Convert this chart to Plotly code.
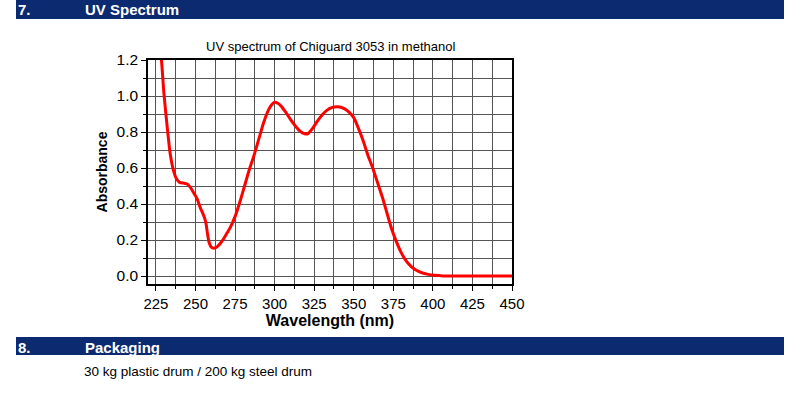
import plotly.graph_objects as go

wavelength = [227, 228.5, 230, 232, 234, 236, 238, 240, 243, 245, 247, 249, 251, 253, 255, 256.5,
              257.5, 258.5, 260, 262, 264, 266, 268, 270, 272, 275, 278, 281, 284, 287, 290, 293,
              296, 298, 300, 302, 304, 307, 310, 313, 316, 319, 321, 324, 327, 330, 333, 336, 340,
              344, 347, 350, 353, 356, 359, 362, 365, 368, 371, 374, 377, 380, 383, 386, 389, 393,
              397, 401, 405, 410, 420, 435, 450]
absorbance = [1.30, 1.20, 1.02, 0.84, 0.68, 0.59, 0.54, 0.52, 0.515, 0.51, 0.49, 0.46, 0.43, 0.38,
              0.34, 0.30, 0.24, 0.19, 0.16, 0.155, 0.165, 0.185, 0.21, 0.24, 0.27, 0.33, 0.41, 0.50,
              0.59, 0.67, 0.76, 0.85, 0.92, 0.95, 0.965, 0.96, 0.945, 0.91, 0.87, 0.835, 0.805, 0.79,
              0.79, 0.82, 0.86, 0.895, 0.92, 0.935, 0.94, 0.93, 0.91, 0.88, 0.82, 0.75, 0.67, 0.60,
              0.52, 0.44, 0.35, 0.26, 0.19, 0.13, 0.085, 0.055, 0.035, 0.018, 0.009, 0.004, 0.002,
              0.0, 0.0, 0.0, 0.0]
x_ticks = [225, 250, 275, 300, 325, 350, 375, 400, 425, 450]
y_ticks = [0.0, 0.2, 0.4, 0.6, 0.8, 1.0, 1.2]

W, H = 800, 396
L, R, T, B = 148, 512, 60, 284
pw, ph = R - L, B - T

def px(x):
    return (x - L) / pw

def py(y):
    return (B - y) / ph

FONT = "Liberation Sans, Arial, sans-serif"
NAVY = "#0b2a6f"
GRID = "#555555"

fig = go.Figure()
fig.add_trace(go.Scatter(x=wavelength, y=absorbance, mode="lines",
                         line=dict(color="#ff0000", width=3, shape="spline", smoothing=0.6),
                         hoverinfo="x+y", showlegend=False))

fig.update_layout(
    width=W, height=H,
    margin=dict(l=L, r=W - R, t=T, b=H - B, pad=0),
    paper_bgcolor="white", plot_bgcolor="white",
    font=dict(family=FONT, color="black"),
    xaxis=dict(range=[220, 450], tickvals=x_ticks, ticktext=[str(v) for v in x_ticks],
               showgrid=True, gridcolor=GRID, gridwidth=1.3,
               minor=dict(dtick=12.5, tick0=225, showgrid=True, gridcolor=GRID, gridwidth=1.3,
                          ticks="outside", ticklen=3, tickcolor="black"),
               ticks="outside", ticklen=5, tickwidth=1.3, tickcolor="black",
               showline=True, linecolor="black", linewidth=1.5, mirror=True,
               zeroline=False, tickfont=dict(size=15, family=FONT),
               title=dict(text="<b>Wavelength (nm)</b>", font=dict(size=16, family=FONT), standoff=3)),
    yaxis=dict(range=[-0.0444, 1.2], tickvals=y_ticks, ticktext=["%.1f" % v for v in y_ticks],
               showgrid=True, gridcolor=GRID, gridwidth=1.3,
               minor=dict(dtick=0.1, tick0=0, showgrid=True, gridcolor=GRID, gridwidth=1.3,
                          ticks="outside", ticklen=3, tickcolor="black"),
               ticks="outside", ticklen=5, tickwidth=1.3, tickcolor="black",
               showline=True, linecolor="black", linewidth=1.5, mirror=True,
               zeroline=False, tickfont=dict(size=15.5, family=FONT),
               title=dict(text="<b>Absorbance</b>", font=dict(size=14, family=FONT), standoff=6)),
)

# Header bands
for (y0, y1) in [(0, 19), (337, 355)]:
    fig.add_shape(type="rect", xref="paper", yref="paper",
                  x0=px(16), x1=px(784), y0=py(y1), y1=py(y0),
                  fillcolor=NAVY, line=dict(width=0), layer="above")

def text(x, y, s, size, bold=False, color="black", xanchor="left"):
    fig.add_annotation(xref="paper", yref="paper", x=px(x), y=py(y), text=("<b>%s</b>" % s) if bold else s,
                       showarrow=False, xanchor=xanchor, yanchor="middle",
                       font=dict(size=size, color=color, family=FONT))

text(16, 10, "7.", 15, True, "white")
text(83, 10, "UV Spectrum", 15, True, "white")
text(16, 347, "8.", 15, True, "white")
text(83, 347, "Packaging", 15, True, "white")
text(82, 371, "30 kg plastic drum / 200 kg steel drum", 13.5)
text(330, 46, "UV spectrum of Chiguard 3053 in methanol", 13, xanchor="center")

fig.write_html("out.html", config={"displayModeBar": False},
               post_script="document.body.style.margin='0';document.body.style.overflow='hidden';")
